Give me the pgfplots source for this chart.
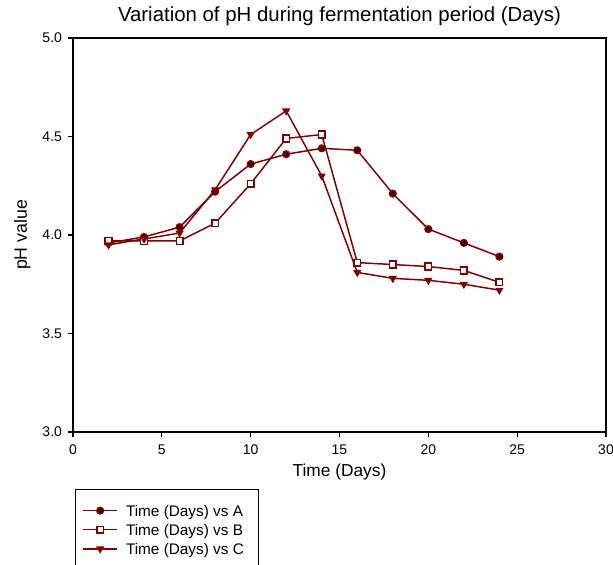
\documentclass[border=0pt]{standalone}
\usepackage{pgfplots}
\pgfplotsset{compat=1.18}
\usepackage{fontspec}
\setmainfont{Liberation Sans}
\definecolor{maroon}{RGB}{128,0,0}
\definecolor{darkfill}{RGB}{60,0,0}
\begin{document}
\begin{tikzpicture}
\useasboundingbox (-54.75pt,-99pt) rectangle (405pt,324pt);
\clip (-54.75pt,-99pt) rectangle (405pt,324pt);
\begin{axis}[
  scale only axis,
  width=399.75pt, height=295.5pt,
  at={(0,0)}, anchor=south west,
  xmin=0, xmax=30, ymin=3.0, ymax=5.0,
  xtick={0,5,...,30}, ytick={3.0,3.5,...,5.0},
  /pgf/number format/assume math mode=true,
  tick label style={font=\fontsize{10.5}{12}\selectfont},
  xticklabel style={yshift=-2pt},
  yticklabel style={xshift=-1pt, /pgf/number format/.cd, fixed, fixed zerofill, precision=1},
  tick align=outside, xtick pos=bottom, ytick pos=left,
  major tick length=3.75pt,
  axis line style={line width=1.1pt},
  every tick/.style={black, line width=0.9pt},
  title={Variation of pH during fermentation period (Days)},
  title style={at={(axis description cs:0.5,1.0228)}, anchor=base, font=\fontsize{15.3}{17}\selectfont},
  xlabel={Time (Days)},
  xlabel style={at={(axis description cs:0.5,-0.1117)}, anchor=base, font=\fontsize{13}{15}\selectfont},
  ylabel={pH value},
  ylabel style={at={(axis description cs:-0.095,0.5)}, anchor=center, font=\fontsize{13.3}{15}\selectfont},
  legend style={at={(axis description cs:0.00375,-0.1447)}, anchor=north west,
    draw=black, line width=1.1pt, font=\fontsize{11.5}{13}\selectfont,
    inner xsep=5pt, inner ysep=10.5pt, row sep=4pt,
    nodes={inner xsep=6pt, inner ysep=1pt, text depth=0pt}},
  legend cell align=left,
  legend image code/.code={\draw[line width=1.1pt, mark repeat=2, mark phase=2, #1] plot coordinates {(0cm,0cm)(0.45cm,0cm)(0.9cm,0cm)};},
  every axis plot/.append style={line width=1.1pt, color=maroon, mark size=2.5pt, mark options={solid, line width=0.8pt}},
]
\addplot[mark=*, mark options={fill=darkfill, draw=maroon}] coordinates {
(2,3.96) (4,3.99) (6,4.04) (8,4.22) (10,4.36) (12,4.41) (14,4.44) (16,4.43) (18,4.21) (20,4.03) (22,3.96) (24,3.89)};
\addlegendentry{Time (Days) vs A}
\addplot[mark=square*, mark options={fill=white, draw=maroon}] coordinates {
(2,3.97) (4,3.97) (6,3.97) (8,4.06) (10,4.26) (12,4.49) (14,4.51) (16,3.86) (18,3.85) (20,3.84) (22,3.82) (24,3.76)};
\addlegendentry{Time (Days) vs B}
\addplot[mark=triangle*, mark options={rotate=180, fill=maroon, draw=maroon}] coordinates {
(2,3.95) (4,3.98) (6,4.01) (8,4.23) (10,4.51) (12,4.63) (14,4.30) (16,3.81) (18,3.78) (20,3.77) (22,3.75) (24,3.72)};
\addlegendentry{Time (Days) vs C}
\end{axis}
\end{tikzpicture}
\end{document}
